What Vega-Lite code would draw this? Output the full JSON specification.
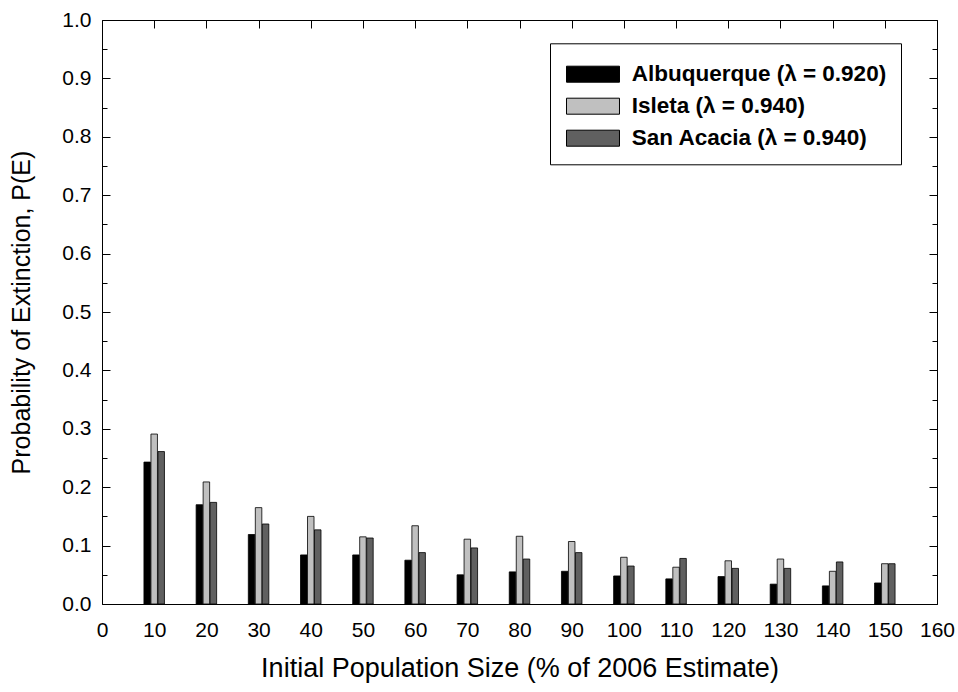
{
  "$schema": "https://vega.github.io/schema/vega-lite/v6.json",
  "width": 835,
  "height": 584,
  "autosize": {"type": "none"},
  "padding": {"left": 102, "top": 20, "right": 21, "bottom": 88},
  "background": "white",
  "config": {
    "view": {"stroke": "black", "strokeWidth": 1},
    "font": "Liberation Sans",
    "axis": {
      "domain": false,
      "grid": false,
      "labelFont": "Liberation Sans",
      "titleFont": "Liberation Sans",
      "labelColor": "black",
      "titleColor": "black",
      "tickColor": "black",
      "tickWidth": 1,
      "labelFontSize": 21,
      "titleFontSize": 25,
      "titleFontWeight": "normal",
      "labelOverlap": false,
      "labelFlush": false,
      "labelAngle": 0
    },
    "legend": {
      "orient": "none",
      "legendX": 448,
      "legendY": 23.3,
      "padding": 14.4,
      "strokeColor": "black",
      "fillColor": "white",
      "symbolType": "M-1.656,-0.5H1.656V0.5H-1.656Z",
      "symbolSize": 1024,
      "symbolStrokeColor": "black",
      "symbolStrokeWidth": 1,
      "symbolOffset": 12.1,
      "labelOffset": 22.2,
      "labelFontSize": 22.5,
      "labelFontWeight": "bold",
      "labelFont": "Liberation Sans",
      "labelColor": "black",
      "labelLimit": 500,
      "rowPadding": 4
    }
  },
  "data": {
    "values": [
      {"size": 10, "site": "Albuquerque (λ = 0.920)", "p": 0.243},
      {"size": 10, "site": "Isleta (λ = 0.940)", "p": 0.291},
      {"size": 10, "site": "San Acacia (λ = 0.940)", "p": 0.261},
      {"size": 20, "site": "Albuquerque (λ = 0.920)", "p": 0.170},
      {"size": 20, "site": "Isleta (λ = 0.940)", "p": 0.209},
      {"size": 20, "site": "San Acacia (λ = 0.940)", "p": 0.174},
      {"size": 30, "site": "Albuquerque (λ = 0.920)", "p": 0.119},
      {"size": 30, "site": "Isleta (λ = 0.940)", "p": 0.165},
      {"size": 30, "site": "San Acacia (λ = 0.940)", "p": 0.137},
      {"size": 40, "site": "Albuquerque (λ = 0.920)", "p": 0.084},
      {"size": 40, "site": "Isleta (λ = 0.940)", "p": 0.150},
      {"size": 40, "site": "San Acacia (λ = 0.940)", "p": 0.127},
      {"size": 50, "site": "Albuquerque (λ = 0.920)", "p": 0.084},
      {"size": 50, "site": "Isleta (λ = 0.940)", "p": 0.115},
      {"size": 50, "site": "San Acacia (λ = 0.940)", "p": 0.113},
      {"size": 60, "site": "Albuquerque (λ = 0.920)", "p": 0.075},
      {"size": 60, "site": "Isleta (λ = 0.940)", "p": 0.134},
      {"size": 60, "site": "San Acacia (λ = 0.940)", "p": 0.088},
      {"size": 70, "site": "Albuquerque (λ = 0.920)", "p": 0.050},
      {"size": 70, "site": "Isleta (λ = 0.940)", "p": 0.111},
      {"size": 70, "site": "San Acacia (λ = 0.940)", "p": 0.096},
      {"size": 80, "site": "Albuquerque (λ = 0.920)", "p": 0.055},
      {"size": 80, "site": "Isleta (λ = 0.940)", "p": 0.116},
      {"size": 80, "site": "San Acacia (λ = 0.940)", "p": 0.077},
      {"size": 90, "site": "Albuquerque (λ = 0.920)", "p": 0.056},
      {"size": 90, "site": "Isleta (λ = 0.940)", "p": 0.107},
      {"size": 90, "site": "San Acacia (λ = 0.940)", "p": 0.088},
      {"size": 100, "site": "Albuquerque (λ = 0.920)", "p": 0.048},
      {"size": 100, "site": "Isleta (λ = 0.940)", "p": 0.080},
      {"size": 100, "site": "San Acacia (λ = 0.940)", "p": 0.065},
      {"size": 110, "site": "Albuquerque (λ = 0.920)", "p": 0.043},
      {"size": 110, "site": "Isleta (λ = 0.940)", "p": 0.063},
      {"size": 110, "site": "San Acacia (λ = 0.940)", "p": 0.078},
      {"size": 120, "site": "Albuquerque (λ = 0.920)", "p": 0.047},
      {"size": 120, "site": "Isleta (λ = 0.940)", "p": 0.074},
      {"size": 120, "site": "San Acacia (λ = 0.940)", "p": 0.061},
      {"size": 130, "site": "Albuquerque (λ = 0.920)", "p": 0.034},
      {"size": 130, "site": "Isleta (λ = 0.940)", "p": 0.077},
      {"size": 130, "site": "San Acacia (λ = 0.940)", "p": 0.061},
      {"size": 140, "site": "Albuquerque (λ = 0.920)", "p": 0.031},
      {"size": 140, "site": "Isleta (λ = 0.940)", "p": 0.056},
      {"size": 140, "site": "San Acacia (λ = 0.940)", "p": 0.072},
      {"size": 150, "site": "Albuquerque (λ = 0.920)", "p": 0.036},
      {"size": 150, "site": "Isleta (λ = 0.940)", "p": 0.069},
      {"size": 150, "site": "San Acacia (λ = 0.940)", "p": 0.069}
    ]
  },
  "resolve": {"axis": {"x": "independent", "y": "independent"}},
  "layer": [
    {
      "mark": {"type": "bar", "width": 6.5, "stroke": "black", "strokeWidth": 0.8},
      "encoding": {
        "x": {
          "field": "size", "type": "ordinal",
          "scale": {"type": "point", "domain": [0, 10, 20, 30, 40, 50, 60, 70, 80, 90, 100, 110, 120, 130, 140, 150, 160], "padding": 0},
          "axis": {
            "orient": "bottom",
            "ticks": false, "labelPadding": 15,
            "title": "Initial Population Size (% of 2006 Estimate)", "titlePadding": 15,
            "titleFontSize": 27
          }
        },
        "xOffset": {
          "field": "site", "type": "nominal",
          "scale": {"type": "point", "range": [-10.5, 10.5], "domain": ["Albuquerque (λ = 0.920)", "Isleta (λ = 0.940)", "San Acacia (λ = 0.940)"]}
        },
        "y": {
          "field": "p", "type": "quantitative", "stack": null,
          "scale": {"domain": [0, 1], "nice": false},
          "axis": {
            "orient": "left",
            "values": [0, 0.1, 0.2, 0.3, 0.4, 0.5, 0.6, 0.7, 0.8, 0.9, 1.0],
            "format": ".1f", "ticks": false, "labelPadding": 11,
            "title": "Probability of Extinction, P(E)", "titlePadding": 27
          }
        },
        "color": {
          "field": "site", "type": "nominal",
          "scale": {"domain": ["Albuquerque (λ = 0.920)", "Isleta (λ = 0.940)", "San Acacia (λ = 0.940)"], "range": ["#000000", "#c0c0c0", "#606060"]},
          "legend": {"title": null}
        }
      }
    },
    {
      "mark": {"type": "point", "opacity": 0},
      "encoding": {
        "x": {"field": "size", "type": "ordinal", "axis": {"orient": "bottom", "labels": false, "tickSize": -8, "title": null}},
        "y": {"field": "p", "type": "quantitative", "axis": {"orient": "left", "values": [0, 0.1, 0.2, 0.3, 0.4, 0.5, 0.6, 0.7, 0.8, 0.9, 1.0], "labels": false, "tickSize": -8, "title": null}}
      }
    },
    {
      "mark": {"type": "point", "opacity": 0},
      "encoding": {
        "x": {"field": "size", "type": "ordinal", "axis": {"orient": "top", "labels": false, "tickSize": -8, "title": null}},
        "y": {"field": "p", "type": "quantitative", "axis": {"orient": "left", "values": [0.05, 0.15, 0.25, 0.35, 0.45, 0.55, 0.65, 0.75, 0.85, 0.95], "labels": false, "tickSize": -5, "title": null}}
      }
    },
    {
      "mark": {"type": "point", "opacity": 0},
      "encoding": {
        "x": {"field": "size", "type": "ordinal", "axis": null},
        "y": {"field": "p", "type": "quantitative", "axis": {"orient": "right", "values": [0, 0.1, 0.2, 0.3, 0.4, 0.5, 0.6, 0.7, 0.8, 0.9, 1.0], "labels": false, "tickSize": -8, "title": null}}
      }
    },
    {
      "mark": {"type": "point", "opacity": 0},
      "encoding": {
        "x": {"field": "size", "type": "ordinal", "axis": null},
        "y": {"field": "p", "type": "quantitative", "axis": {"orient": "right", "values": [0.05, 0.15, 0.25, 0.35, 0.45, 0.55, 0.65, 0.75, 0.85, 0.95], "labels": false, "tickSize": -5, "title": null}}
      }
    }
  ]
}
